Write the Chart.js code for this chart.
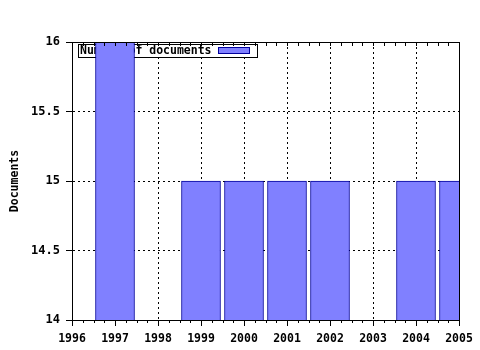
<!DOCTYPE html>
<html>
<head>
<meta charset="utf-8">
<script src="https://cdn.jsdelivr.net/npm/chart.js@4.4.1/dist/chart.umd.min.js"></script>
<style>
  html, body { margin: 0; padding: 0; background: #fff; }
  #wrap { width: 480px; height: 350px; }
</style>
</head>
<body>
<div id="wrap"><canvas id="docChart" width="480" height="350"></canvas></div>
<script>
// --- data ---
const years = [1997, 1999, 2000, 2001, 2002, 2004, 2005];
const docCounts = [16, 15, 15, 15, 15, 15, 15];
const seriesLabel = 'Number of documents';
const yTicks = [14, 14.5, 15, 15.5, 16];

const FONT = 'DejaVu Sans Mono';

// frame, minor ticks and the in-plot legend (drawn under the bars)
const framePlugin = {
  id: 'frame',
  beforeDatasetsDraw(chart) {
    const { ctx, chartArea: a } = chart;
    const ds = chart.data.datasets[0];
    ctx.save();
    ctx.font = 'bold 11.5px "' + FONT + '"';
    const bx = a.left + 6, by = a.top + 2, bw = 179, bh = 13;
    ctx.fillStyle = '#fff';
    ctx.fillRect(bx, by, bw, bh);
    ctx.strokeStyle = '#000';
    ctx.lineWidth = 1;
    ctx.strokeRect(bx + 0.5, by + 0.5, bw, bh);
    ctx.fillStyle = '#000';
    ctx.textBaseline = 'middle';
    ctx.fillText(ds.label, bx + 2, by + bh / 2 + 1);
    ctx.fillStyle = ds.backgroundColor;
    ctx.fillRect(bx + 140, by + 3, 32, 7);
    ctx.strokeStyle = ds.borderColor;
    ctx.strokeRect(bx + 140.5, by + 3.5, 31, 6);
    ctx.restore();
  },
  afterDraw(chart) {
    const { ctx, chartArea: a, scales } = chart;
    const x = scales.x;
    ctx.save();
    ctx.strokeStyle = '#000';
    ctx.lineWidth = 1;
    ctx.beginPath();
    // top and right border
    ctx.moveTo(a.left, Math.round(a.top) + 0.5);
    ctx.lineTo(a.right, Math.round(a.top) + 0.5);
    ctx.moveTo(Math.round(a.right) + 0.5, a.top);
    ctx.lineTo(Math.round(a.right) + 0.5, a.bottom);
    // quarter ticks on top and bottom
    for (let v = x.min; v <= x.max + 1e-9; v += 0.25) {
      const px = Math.round(x.getPixelForValue(v)) + 0.5;
      ctx.moveTo(px, a.top);
      ctx.lineTo(px, a.top + 4);
      ctx.moveTo(px, a.bottom);
      ctx.lineTo(px, a.bottom + 3);
    }
    ctx.stroke();
    ctx.restore();
  }
};

const ctx = document.getElementById('docChart').getContext('2d');
new Chart(ctx, {
  type: 'bar',
  data: {
    datasets: [{
      label: seriesLabel,
      data: years.map((yr, i) => ({ x: yr, y: docCounts[i] })),
      backgroundColor: '#8080ff',
      borderColor: '#00009c',
      borderWidth: 1,
      borderSkipped: false,
      barThickness: 39
    }]
  },
  options: {
    responsive: false,
    animation: false,
    layout: { padding: { left: 0, top: 42, right: 21, bottom: 0 } },
    plugins: {
      legend: { display: false },
      tooltip: { enabled: false }
    },
    scales: {
      x: {
        type: 'linear',
        min: 1996,
        max: 2005,
        offset: false,
        afterFit: s => { s.height = 30; },
        ticks: {
          stepSize: 1,
          autoSkip: false,
          maxRotation: 0,
          padding: 6,
          color: '#000',
          font: { family: FONT, size: 11.5, weight: 'bold' },
          callback: v => String(v)
        },
        grid: {
          offset: false,
          color: '#000',
          tickColor: '#000',
          tickLength: 6,
          tickBorderDash: []
        },
        border: { color: '#000', width: 1, dash: [2, 3] }
      },
      y: {
        min: 14,
        max: 16,
        afterFit: s => { s.width = 72; },
        afterBuildTicks: s => { s.ticks = yTicks.map(v => ({ value: v })); },
        title: {
          display: true,
          text: 'Documents',
          color: '#000',
          font: { family: FONT, size: 11.5, weight: 'bold' },
          padding: { top: 8, bottom: 0 }
        },
        ticks: {
          padding: 6,
          color: '#000',
          font: { family: FONT, size: 12, weight: 'bold' },
          callback: v => String(v)
        },
        grid: {
          color: '#000',
          tickColor: '#000',
          tickLength: 6,
          tickBorderDash: []
        },
        border: { color: '#000', width: 1, dash: [2, 3] }
      }
    }
  },
  plugins: [framePlugin]
});
</script>
</body>
</html>
